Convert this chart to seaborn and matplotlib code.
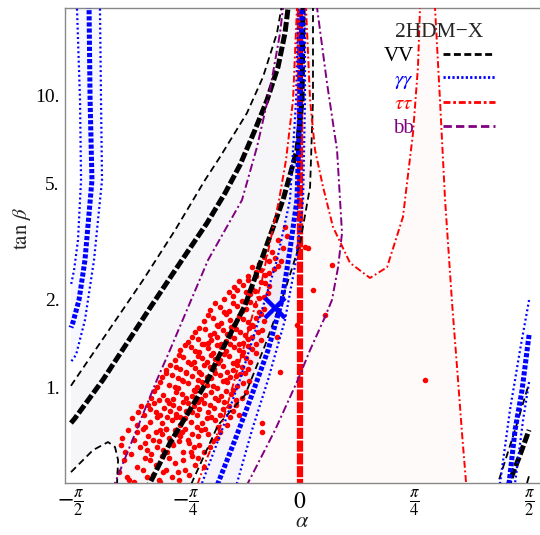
import numpy as np
import matplotlib
matplotlib.use("Agg")
import matplotlib.pyplot as plt
import seaborn as sns
from matplotlib.lines import Line2D

# ---- VV contours (black) ----
vv_lo_alpha = [-1.571, -1.543, -1.303, -1.077, -0.857, -0.652, -0.549, -0.364, -0.254, -0.158, -0.123]
vv_lo_tanb = [1.01, 1.06, 1.59, 2.33, 3.46, 5.14, 6.17, 8.74, 11.62, 16.46, 20.7]
vv_cl_alpha = [-1.571, -1.543, -1.351, -1.029, -0.823, -0.638, -0.514, -0.412, -0.309, -0.226, -0.151, -0.103,
               -0.082, -0.075]
vv_cl_tanb = [0.752, 0.782, 1.06, 1.87, 2.67, 3.66, 4.64, 5.79, 7.64, 9.69, 12.58, 16.46, 20.06, 20.7]
vv_cr_alpha = [0.021, 0.021, 0.014, -0.021, -0.117, -0.240, -0.377, -0.569, -0.631, -0.892, -1.029, -1.056]
vv_cr_tanb = [20.7, 20.06, 9.69, 6.52, 4.39, 2.96, 1.91, 1.24, 1.06, 0.642, 0.468, 0.443]
vv_hi_alpha = [0.089, 0.089, 0.089, 0.069, 0.0, -0.103, -0.240, -0.377, -0.562, -0.734, -0.754]
vv_hi_tanb = [20.7, 20.06, 9.69, 4.87, 3.12, 2.15, 1.39, 0.939, 0.740, 0.479, 0.453]
vv_pocket_alpha = [-1.571, -1.420, -1.317, -1.269, -1.248, -1.255, -1.255]
vv_pocket_tanb = [0.510, 0.607, 0.647, 0.622, 0.561, 0.468, 0.443]
vv_r_thin_alpha = [1.344, 1.358, 1.475, 1.557, 1.571]
vv_r_thin_tanb = [0.443, 0.468, 0.712, 0.977, 1.03]
vv_r_thick_alpha = [1.427, 1.434, 1.509, 1.571]
vv_r_thick_tanb = [0.443, 0.468, 0.584, 0.712]
vv_r_tip_alpha = [1.557, 1.571]
vv_r_tip_tanb = [0.468, 0.495]

# ---- gamma gamma contours (blue) ----
aa_l_out_alpha = [-1.530, -1.530, -1.509, -1.502, -1.523, -1.550, -1.571]
aa_l_out_tanb = [20.7, 20.06, 9.69, 5.14, 3.20, 2.52, 2.24]
aa_l_mid_alpha = [-1.447, -1.447, -1.440, -1.427, -1.475, -1.516, -1.557, -1.571]
aa_l_mid_tanb = [20.7, 20.06, 9.69, 5.14, 2.73, 1.99, 1.67, 1.60]
aa_l_in_alpha = [-1.372, -1.372, -1.365, -1.358, -1.413, -1.475, -1.536, -1.571]
aa_l_in_tanb = [20.7, 20.06, 9.69, 5.14, 2.73, 1.70, 1.29, 1.22]
aa_c_mid_alpha = [0.014, 0.014, 0.0, -0.021, -0.069, -0.123, -0.219, -0.343, -0.446, -0.562, -0.583]
aa_c_mid_tanb = [20.7, 20.06, 9.69, 4.39, 2.96, 1.99, 1.34, 0.902, 0.658, 0.468, 0.443]
aa_c_lo_alpha = [-0.014, -0.014, -0.027, -0.069, -0.158, -0.261, -0.412, -0.535, -0.672, -0.693]
aa_c_lo_tanb = [20.7, 20.06, 9.69, 4.39, 2.73, 1.84, 1.06, 0.712, 0.468, 0.443]
aa_c_hi_alpha = [0.034, 0.034, 0.034, 0.021, -0.027, -0.103, -0.219, -0.329, -0.432, -0.446]
aa_c_hi_tanb = [20.7, 20.06, 9.69, 4.39, 2.73, 1.70, 1.06, 0.712, 0.468, 0.443]
aa_r_out_alpha = [1.571, 1.509, 1.440, 1.372, 1.365]
aa_r_out_tanb = [1.99, 1.34, 0.834, 0.468, 0.443]
aa_r_mid_alpha = [1.571, 1.523, 1.475, 1.434, 1.427]
aa_r_mid_tanb = [1.51, 0.977, 0.712, 0.468, 0.443]
aa_r_in_alpha = [1.571, 1.530, 1.475, 1.468]
aa_r_in_tanb = [1.04, 0.770, 0.468, 0.443]

# ---- tau tau contours (red) ----
tt_c_alpha = [0.0, 0.0]
tt_c_tanb = [0.443, 20.7]
tt_l_alpha = [-0.021, -0.021, -0.048, -0.096, -0.144, -0.261, -0.391, -0.528, -0.652, -0.700, -0.720]
tt_l_tanb = [20.7, 20.06, 9.69, 6.03, 4.39, 2.33, 1.34, 0.770, 0.548, 0.468, 0.443]
tt_u_alpha = [0.041, 0.041, 0.069, 0.103, 0.158, 0.226, 0.343, 0.480, 0.597, 0.706, 0.775, 0.809, 0.823, 0.823]
tt_u_tanb = [20.7, 20.06, 9.69, 6.52, 4.87, 3.55, 2.67, 2.37, 2.58, 3.84, 7.46, 12.58, 20.06, 20.7]
tt_r_alpha = [0.926, 0.926, 0.960, 0.995, 1.043, 1.077, 1.111, 1.139, 1.145]
tt_r_tanb = [20.7, 20.06, 9.69, 4.39, 1.94, 1.17, 0.695, 0.468, 0.443]

# ---- bb contours (purple) ----
bb_l_alpha = [-1.283, -1.269, -0.981, -0.892, -0.631, -0.398, -0.295, -0.206, -0.137, -0.117, -0.110]
bb_l_tanb = [0.443, 0.468, 1.06, 1.34, 2.73, 4.39, 6.68, 10.49, 16.46, 20.06, 20.7]
bb_r_alpha = [0.117, 0.117, 0.185, 0.254, 0.288, 0.261, 0.219, 0.171, 0.069, -0.014, -0.171, -0.357, -0.377]
bb_r_tanb = [20.7, 20.06, 11.08, 6.52, 3.38, 2.58, 1.99, 1.74, 1.34, 1.06, 0.712, 0.468, 0.443]

# ---- scan points ----
scan_alpha = [
    -1.17, -1.05, -1.01, -0.97, -0.88, -0.83, -0.76, -1.12, -0.99, -0.92, -0.86, -1.21, -1.06, -0.95, -0.80, -0.72, -0.66,
    -1.24, -1.14, -1.08, -0.94, -0.90, -0.79, -0.70, -1.19, -1.03, -0.96, -0.84, -0.74,
    -1.20, -1.10, -1.02, -0.94, -0.87, -0.80, -0.73, -0.66, -1.14, -1.04, -0.97, -0.90, -0.84, -0.77, -0.70, -0.60, -0.55,
    -1.18, -1.08, -0.99, -0.92, -0.86, -0.79, -0.68, -0.26, -0.26,
    -1.23, -1.16, -1.06, -0.98, -0.91, -0.83, -0.76, -0.69, -0.62, -0.57, -1.12, -1.01, -0.95, -0.88, -0.81, -0.74, -0.63,
    -1.22, -1.05, -0.96, -0.89, -0.82, -0.75, -0.65,
    -1.12, -1.03, -0.95, -0.88, -0.82, -0.75, -0.67, -0.58, -0.50, -1.07, -0.99, -0.91, -0.85, -0.78, -0.71, -0.63, -0.55,
    -0.46, -1.09, -1.00, -0.93, -0.87, -0.80, -0.73, -0.66, -0.59, -0.52, -0.44,
    -1.15, -1.06, -0.98, -0.92, -0.85, -0.79, -0.71, -0.64, -0.56, -0.48, -1.03, -0.96, -0.89, -0.82, -0.74, -0.69, -0.61,
    -0.53, -0.42, -1.11, -1.04, -0.97, -0.90, -0.83, -0.77, -0.70, -0.62, -0.56, -0.49,
    -1.02, -0.94, -0.87, -0.81, -0.74, -0.68, -0.61, -0.54, -0.47, -0.40, -0.98, -0.90, -0.84, -0.77, -0.71, -0.64, -0.57,
    -0.50, -0.43, -0.95, -0.88, -0.81, -0.74, -0.68, -0.61, -0.55, -0.48, -0.41, -0.35,
    -1.00, -0.91, -0.85, -0.78, -0.72, -0.65, -0.58, -0.51, -0.44, -0.37, -0.96, -0.86, -0.80, -0.73, -0.67, -0.60, -0.53,
    -0.46, -0.39, -0.92, -0.84, -0.78, -0.70, -0.64, -0.58, -0.51, -0.44, -0.38,
    -0.92, -0.85, -0.78, -0.72, -0.66, -0.59, -0.53, -0.46, -0.40, -0.86, -0.80, -0.73, -0.67, -0.61, -0.55, -0.49, -0.43,
    -0.37, -0.82, -0.75, -0.69, -0.63, -0.57, -0.51, -0.45, -0.39, -0.33, -0.14, -0.16,
    -0.89, -0.82, -0.75, -0.69, -0.62, -0.56, -0.50, -0.43, -0.36, -0.83, -0.77, -0.70, -0.64, -0.58, -0.52, -0.46, -0.40,
    -0.34, -0.79, -0.72, -0.66, -0.60, -0.54, -0.48, -0.42, -0.36, -0.30,
    -0.77, -0.70, -0.63, -0.57, -0.51, -0.45, -0.39, -0.33, -0.27, -0.72, -0.65, -0.59, -0.53, -0.47, -0.41, -0.35, -0.29,
    -0.66, -0.60, -0.54, -0.48, -0.42, -0.36, -0.30, -0.25,
    -0.74, -0.67, -0.61, -0.54, -0.48, -0.42, -0.36, -0.30, -0.69, -0.62, -0.56, -0.50, -0.44, -0.38, -0.32, -0.26,
    -0.63, -0.57, -0.51, -0.45, -0.39, -0.33, -0.27,
    -0.62, -0.55, -0.49, -0.43, -0.37, -0.31, -0.25, -0.52, -0.46, -0.40, -0.34, -0.28, -0.22, -0.45, -0.39, -0.33, -0.27, -0.21,
    -0.58, -0.52, -0.46, -0.40, -0.34, -0.28, -0.49, -0.43, -0.37, -0.31, -0.25, -0.42, -0.36, -0.30, -0.24,
    -0.36, -0.30, -0.24, -0.18, -0.28, -0.21, -0.15, -0.19, -0.12, -0.09, -0.15,
    -0.33, -0.27, -0.21, -0.25, -0.17, -0.13, -0.10,
    -0.014, 0.034, 0.055, 0.22, 0.09, 0.17, -0.02, 0.857,
]
scan_tanb = [
    0.48, 0.49, 0.50, 0.48, 0.49, 0.48, 0.50, 0.53, 0.54, 0.52, 0.55, 0.56, 0.57, 0.58, 0.56, 0.54, 0.53,
    0.51, 0.47, 0.52, 0.51, 0.57, 0.52, 0.57, 0.49, 0.56, 0.47, 0.51, 0.58,
    0.60, 0.62, 0.59, 0.61, 0.63, 0.60, 0.62, 0.60, 0.66, 0.68, 0.65, 0.67, 0.69, 0.66, 0.68, 0.65, 0.70,
    0.71, 0.72, 0.70, 0.72, 0.71, 0.72, 0.71, 0.75, 0.70,
    0.63, 0.59, 0.64, 0.62, 0.60, 0.65, 0.64, 0.63, 0.62, 0.67, 0.70, 0.66, 0.69, 0.64, 0.70, 0.69, 0.69,
    0.67, 0.61, 0.71, 0.66, 0.68, 0.60, 0.72,
    0.74, 0.76, 0.75, 0.77, 0.74, 0.76, 0.75, 0.77, 0.74, 0.80, 0.82, 0.79, 0.81, 0.83, 0.80, 0.82, 0.80,
    0.83, 0.86, 0.88, 0.85, 0.87, 0.89, 0.86, 0.88, 0.85, 0.89, 0.87,
    0.78, 0.73, 0.79, 0.72, 0.79, 0.78, 0.73, 0.78, 0.73, 0.79, 0.84, 0.80, 0.83, 0.79, 0.82, 0.84, 0.79,
    0.84, 0.80, 0.82, 0.87, 0.90, 0.88, 0.85, 0.88, 0.89, 0.87, 0.90, 0.86,
    0.92, 0.94, 0.91, 0.95, 0.93, 0.91, 0.96, 0.93, 0.95, 0.92, 1.00, 1.02, 0.99, 1.03, 1.00, 1.02, 0.99,
    1.04, 1.01, 1.08, 1.10, 1.06, 1.09, 1.11, 1.07, 1.10, 1.08, 1.11, 1.05,
    0.97, 0.90, 0.96, 0.92, 0.97, 0.94, 0.92, 0.97, 0.90, 0.96, 1.04, 1.00, 1.05, 0.98, 1.04, 1.01, 1.05,
    0.98, 1.03, 1.12, 1.07, 1.12, 1.06, 1.08, 1.12, 1.06, 1.09, 1.12,
    1.14, 1.17, 1.13, 1.16, 1.19, 1.15, 1.18, 1.14, 1.17, 1.24, 1.27, 1.22, 1.26, 1.29, 1.24, 1.28, 1.23,
    1.26, 1.34, 1.37, 1.32, 1.36, 1.39, 1.33, 1.37, 1.32, 1.35, 1.13, 1.48,
    1.19, 1.15, 1.20, 1.13, 1.17, 1.21, 1.13, 1.19, 1.15, 1.29, 1.22, 1.28, 1.22, 1.25, 1.30, 1.21, 1.29,
    1.22, 1.39, 1.33, 1.40, 1.31, 1.37, 1.40, 1.34, 1.38, 1.31,
    1.43, 1.46, 1.42, 1.48, 1.44, 1.47, 1.42, 1.49, 1.45, 1.55, 1.58, 1.53, 1.57, 1.61, 1.55, 1.59, 1.54,
    1.68, 1.72, 1.66, 1.70, 1.75, 1.67, 1.73, 1.69,
    1.49, 1.40, 1.45, 1.41, 1.50, 1.41, 1.46, 1.41, 1.60, 1.51, 1.62, 1.52, 1.58, 1.51, 1.62, 1.57,
    1.77, 1.64, 1.78, 1.64, 1.71, 1.64, 1.78,
    1.84, 1.88, 1.83, 1.90, 1.86, 1.92, 1.85, 2.00, 2.05, 1.98, 2.08, 2.02, 2.10, 2.20, 2.25, 2.18, 2.30, 2.22,
    1.95, 1.81, 1.95, 1.82, 1.96, 1.81, 2.12, 2.15, 2.12, 2.14, 2.04, 2.32, 2.34, 2.40, 2.28,
    2.40, 2.48, 2.42, 2.55, 2.65, 2.72, 2.60, 2.90, 3.00, 3.30, 3.20,
    2.58, 2.52, 2.47, 2.80, 2.78, 2.70, 3.55,
    3.03, 3.03, 3.00, 2.62, 2.15, 1.77, 1.63, 1.06,
]
best_alpha = [-0.17]
best_tanb = [1.87]

# ---- axis ticks ----
xtick_vals = [-np.pi / 2, -np.pi / 4, 0.0, np.pi / 4, np.pi / 2]
xtick_text = [r"$-\frac{\pi}{2}$", r"$-\frac{\pi}{4}$", r"$0$", r"$\frac{\pi}{4}$", r"$\frac{\pi}{2}$"]
ytick_vals = [1, 2, 5, 10]
ytick_text = ["1.", "2.", "5.", "10."]
ytick_minor = [0.5, 0.6, 0.7, 0.8, 0.9, 1.5, 3, 4, 6, 7, 8, 9, 15]

legend_labels = ["VV", r"$\gamma\gamma$", r"$\tau\tau$", "bb"]
legend_colors = ["black", "blue", "red", "purple"]

sns.set_theme(style="white")
plt.rcParams["font.family"] = ["Liberation Serif", "DejaVu Serif"]
plt.rcParams["mathtext.fontset"] = "stix"
plt.rcParams["lines.scale_dashes"] = False
plt.rcParams["axes.unicode_minus"] = True

fig = plt.figure(figsize=(5.4, 5.35), dpi=100)
ax = fig.add_axes([65 / 540, 52 / 535, 475 / 540, 475 / 535])
ax.set_yscale("log")

BLUE = "#0000ff"
RED = "#ff0000"
PURP = "#800080"


def shade(xs, ys, color, a):
    ax.fill(xs, ys, color=color, alpha=a, lw=0, zorder=1)


# allowed regions (very light)
shade(vv_lo_alpha[::-1] + vv_pocket_alpha + vv_hi_alpha[::-1],
      vv_lo_tanb[::-1] + vv_pocket_tanb + vv_hi_tanb[::-1], "#3a3a60", 0.045)
shade(tt_l_alpha + tt_r_alpha[::-1] + tt_u_alpha[::-1],
      tt_l_tanb + tt_r_tanb[::-1] + tt_u_tanb[::-1], "#ff3030", 0.018)
shade(aa_c_lo_alpha + aa_c_hi_alpha[::-1], aa_c_lo_tanb + aa_c_hi_tanb[::-1], "#3050ff", 0.04)
shade(aa_l_out_alpha + aa_l_in_alpha[::-1], aa_l_out_tanb + aa_l_in_tanb[::-1], "#3050ff", 0.035)
shade(aa_r_out_alpha + aa_r_in_alpha[::-1], aa_r_out_tanb + aa_r_in_tanb[::-1], "#3050ff", 0.035)

# scan points
sns.scatterplot(x=scan_alpha, y=scan_tanb, color=RED, s=16, linewidth=0, ax=ax, zorder=2)

thin_k = dict(color="black", lw=1.3, dashes=(5, 3), zorder=3)
thick_k = dict(color="black", lw=3.6, dashes=(7, 2), zorder=3)
thin_b = dict(color=BLUE, lw=1.6, dashes=(1.4, 2.0), zorder=3)
thick_b = dict(color=BLUE, lw=3.6, dashes=(3, 1.4), zorder=3)
thin_r = dict(color=RED, lw=1.4, dashes=(5, 2, 1.3, 2), zorder=3)
thick_r = dict(color=RED, lw=4.5, dashes=(8, 1.2), zorder=2.5)
thin_p = dict(color=PURP, lw=1.4, dashes=(6, 2.2, 1.5, 2.2), zorder=3)

ax.plot(tt_c_alpha, tt_c_tanb, **thick_r)
for a, t in [(vv_lo_alpha, vv_lo_tanb), (vv_hi_alpha, vv_hi_tanb), (vv_pocket_alpha, vv_pocket_tanb),
             (vv_r_thin_alpha, vv_r_thin_tanb), (vv_r_tip_alpha, vv_r_tip_tanb)]:
    ax.plot(a, t, **thin_k)
for a, t in [(vv_cl_alpha, vv_cl_tanb), (vv_cr_alpha, vv_cr_tanb), (vv_r_thick_alpha, vv_r_thick_tanb)]:
    ax.plot(a, t, **thick_k)
for a, t in [(aa_l_out_alpha, aa_l_out_tanb), (aa_l_in_alpha, aa_l_in_tanb), (aa_c_lo_alpha, aa_c_lo_tanb),
             (aa_c_hi_alpha, aa_c_hi_tanb), (aa_r_out_alpha, aa_r_out_tanb), (aa_r_in_alpha, aa_r_in_tanb)]:
    ax.plot(a, t, **thin_b)
for a, t in [(aa_l_mid_alpha, aa_l_mid_tanb), (aa_c_mid_alpha, aa_c_mid_tanb), (aa_r_mid_alpha, aa_r_mid_tanb)]:
    ax.plot(a, t, **thick_b)
for a, t in [(tt_l_alpha, tt_l_tanb), (tt_u_alpha, tt_u_tanb), (tt_r_alpha, tt_r_tanb)]:
    ax.plot(a, t, **thin_r)
for a, t in [(bb_l_alpha, bb_l_tanb), (bb_r_alpha, bb_r_tanb)]:
    ax.plot(a, t, **thin_p)

# best fit point
ax.plot(best_alpha, best_tanb, ls="none", marker="x", ms=15, mew=3.2, color=BLUE, zorder=6)

ax.set_xlim(-1.612, 1.646)
ax.set_ylim(0.468, 20.06)

ax.set_xticks(xtick_vals)
ax.set_xticklabels(xtick_text, fontsize=17)
ax.set_yticks(ytick_vals)
ax.set_yticklabels(ytick_text, fontsize=14)
ax.set_yticks(ytick_minor, minor=True)
ax.yaxis.set_minor_formatter(matplotlib.ticker.NullFormatter())
for lab in ax.get_xticklabels():
    lab.set_va("center")
ax.tick_params(axis="x", which="major", direction="in", length=5, width=0.8, color="#777777", pad=14)
ax.tick_params(axis="y", which="major", direction="in", length=6, width=0.8, color="#777777", pad=4)
ax.tick_params(axis="y", which="minor", direction="in", length=3.5, width=0.7, color="#777777")
ax.tick_params(axis="both", labelcolor="black")

for side in ["left", "bottom", "top"]:
    ax.spines[side].set_color("#888888")
    ax.spines[side].set_linewidth(1.0)
ax.spines["right"].set_visible(False)

ax.set_xlabel(r"$\alpha$", fontsize=16)
ax.xaxis.set_label_coords(0.5, -0.1025)
ax.xaxis.label.set_va("bottom")
ax.set_ylabel(r"$\tan\,\beta$", fontsize=15)
ax.yaxis.set_label_coords(-0.09, 0.537)
ax.yaxis.label.set_va("center")

handles = [
    Line2D([], [], color="black", lw=2.0, dashes=(5, 2.5)),
    Line2D([], [], color=BLUE, lw=2.0, dashes=(1.6, 1.6)),
    Line2D([], [], color=RED, lw=2.0, dashes=(5, 2, 2, 2)),
    Line2D([], [], color=PURP, lw=2.0, dashes=(6, 3)),
]
leg = ax.legend(handles, legend_labels, title="2HDM\u2212X", loc="upper right",
                bbox_to_anchor=(0.905, 0.968), frameon=False, markerfirst=False,
                handlelength=2.5, handletextpad=1.4, labelspacing=0.2,
                fontsize=15, title_fontsize=15.5, labelcolor=legend_colors,
                borderpad=0, borderaxespad=0)

fig.savefig("out.png", dpi=100)
